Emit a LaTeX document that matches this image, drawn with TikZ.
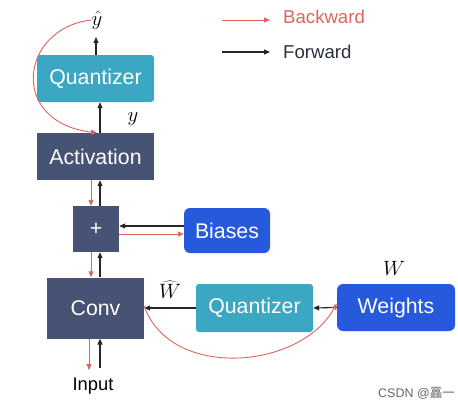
\documentclass[tikz,border=0pt]{standalone}
\usepackage{fontspec}
\setmainfont{Liberation Sans}
\newfontfamily\cjk{Noto Sans CJK SC}
\usetikzlibrary{arrows.meta}
\definecolor{qteal}{HTML}{3CA7C2}
\definecolor{dslate}{HTML}{475374}
\definecolor{bblue}{HTML}{2659DB}
\definecolor{bred}{HTML}{D9665C}
\definecolor{ftext}{HTML}{2A2F3A}
\tikzset{
  box/.style={inner sep=0pt, text=white, font=\fontsize{21.3}{21.3}\selectfont},
  quant/.style={box, fill=qteal, rounded corners=3pt},
  layer/.style={box, fill=dslate},
  param/.style={box, fill=bblue, rounded corners=6pt},
  fw/.style={draw=black!85, line width=1.1pt, -{Triangle[length=6pt,width=5pt]}},
  bw/.style={draw=bred, line width=0.9pt, -{Triangle[length=6pt,width=5pt]}},
  mlab/.style={inner sep=0pt, font=\fontsize{22}{22}\selectfont},
  legtxt/.style={inner sep=0pt, anchor=west, font=\fontsize{18.6}{18.6}\selectfont},
}
\begin{document}
\begin{tikzpicture}[x=1pt,y=-1pt]
\useasboundingbox (0,0) rectangle (458,407);
% boxes
\node[quant, minimum width=117pt, minimum height=47pt] (q1) at (95.5,78.5) {Quantizer};
\node[layer, minimum width=117pt, minimum height=47pt] (act) at (95.5,156.5) {Activation};
\node[layer, minimum width=46pt, minimum height=46pt] (plus) at (96,229) {+};
\node[param, minimum width=86pt, minimum height=45pt] (bias) at (227,230.5) {Biases};
\node[layer, minimum width=97pt, minimum height=61pt] (conv) at (95.5,308) {Conv};
\node[quant, minimum width=117pt, minimum height=48pt] (q2) at (254.5,308) {Quantizer};
\node[param, minimum width=118pt, minimum height=47pt] (wts) at (396,307.5) {Weights};
% labels
\node[mlab] (yhat) at (97,20) {$\hat{y}$};
\node[mlab] (ylab) at (133,119) {$y$};
\node[mlab] (what) at (170,290) {$\widehat{W}$};
\node[mlab] (wlab) at (394,268) {$W$};
\node[inner sep=0pt, font=\fontsize{18.3}{18.3}\selectfont] (inp) at (93,386) {Input};
% helper coordinates
\coordinate (fx) at (100,0);
\coordinate (bx) at (91,0);
\coordinate (fy) at (0,226);
\coordinate (by) at (0,234);
\coordinate (inF) at (100,368);
\coordinate (inB) at (89,370);
\coordinate (qtop) at (96,37);
\coordinate (ax) at (97,0);
% forward arrows
\draw[fw] (q1.north -| qtop) -- (qtop);
\draw[fw] (act.north -| fx) -- (q1.south -| fx);
\draw[fw] (plus.north -| fx) -- (act.south -| fx);
\draw[fw] (conv.north -| fx) -- (plus.south -| fx);
\draw[fw] (inF) -- (conv.south -| inF);
\draw[fw] (bias.west |- fy) -- (plus.east |- fy);
\draw[fw] (q2.west) -- (conv.east);
\draw[fw] (wts.west) -- (q2.east);
% backward arrows
\draw[bw] (yhat.west) .. controls (20,28) and (8,122) .. (act.north -| ax);
\draw[bw] (act.south -| bx) -- (plus.north -| bx);
\draw[bw] (plus.south -| bx) -- (conv.north -| bx);
\draw[bw] (conv.south -| inB) -- (inB);
\draw[bw] (plus.east |- by) -- (bias.west |- by);
\draw[bw] ([yshift=2pt]conv.east) .. controls (170,380) and (300,370) .. ([yshift=4pt]wts.west);
% legend
\coordinate (lb1) at (222,20);
\coordinate (lb2) at (270,20);
\coordinate (lf1) at (222,52);
\coordinate (lf2) at (270,52);
\draw[bw] (lb1) -- (lb2);
\draw[fw] (lf1) -- (lf2);
\node[legtxt, text=bred] (legb) at (283,17) {Backward};
\node[legtxt, text=ftext] (legf) at (283,52) {Forward};
% watermark
\node[inner sep=0pt, anchor=east, text=black!60, font=\fontsize{12.5}{12.5}\selectfont] (wm) at (455,393) {CSDN @{\cjk 靐一}};
\end{tikzpicture}
\end{document}
